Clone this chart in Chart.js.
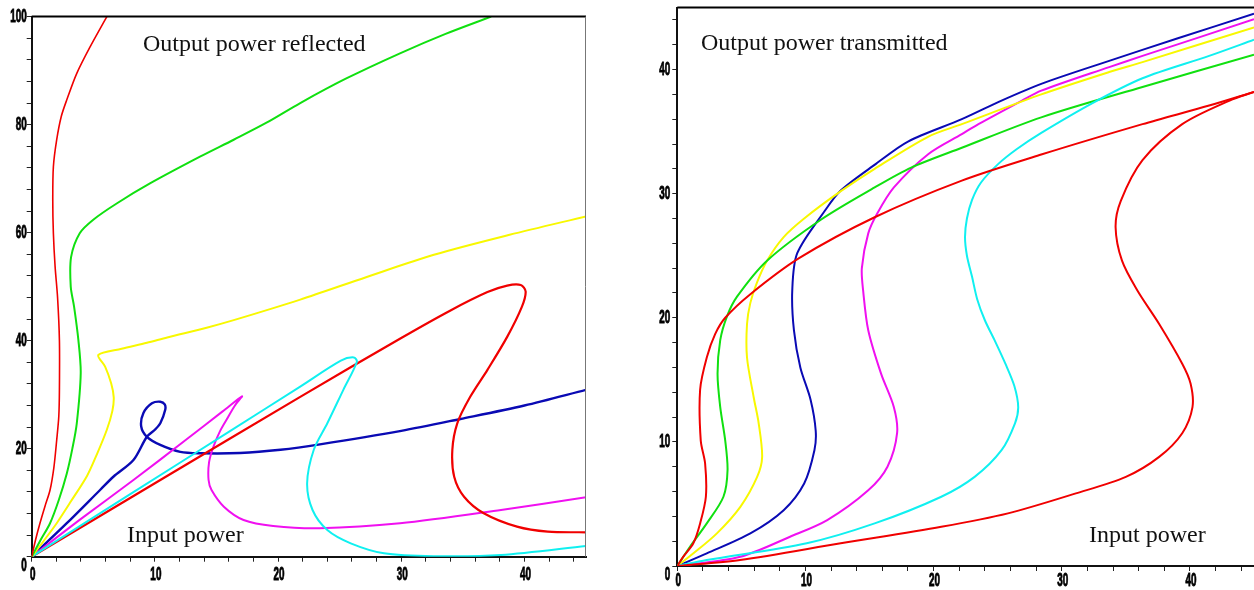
<!DOCTYPE html>
<html lang="en">
<head>
    <meta charset="UTF-8">
    <title>Output power reflected / transmitted</title>
    <style>
        body { margin: 0; background: #fff; width: 1254px; height: 590px; overflow: hidden; position: relative; }
        canvas { position: absolute; top: 0; }
        #left { left: 0; }
        #right { left: 640px; }
        .note {
            position: absolute;
            font-family: "Liberation Serif", "Times New Roman", serif;
            font-size: 24px;
            line-height: 24px;
            color: #111;
            white-space: nowrap;
        }
    </style>
</head>
<body>
    <canvas id="left" width="600" height="590"></canvas>
    <canvas id="right" width="614" height="590"></canvas>
    <div class="note" style="left:143px; top:31px;">Output power reflected</div>
    <div class="note" style="left:127px; top:522px;">Input power</div>
    <div class="note" style="left:701px; top:30px;">Output power transmitted</div>
    <div class="note" style="left:1089px; top:522px;">Input power</div>

    <script src="https://cdn.jsdelivr.net/npm/chart.js"></script>
    <script>
        // tick labels
        var reflXLabels = [0, 10, 20, 30, 40];
        var reflYLabels = [0, 20, 40, 60, 80, 100];
        var transXLabels = [0, 10, 20, 30, 40];
        var transYLabels = [0, 10, 20, 30, 40];

        // left panel: output power reflected vs input power
        var reflRed1X = [0, 0.3, 0.67, 1.1, 1.49, 1.8, 2.03, 2.2, 2.25, 2.25, 2.1, 1.9, 1.76, 1.71, 1.76, 2.03, 2.4, 2.85, 3.66, 4.74, 6.1];
        var reflRed1Y = [0, 3, 6.2, 9.5, 12.35, 16.5, 21.6, 26, 30.9, 40.1, 48, 53.7, 59.9, 66, 72.2, 77.2, 81.5, 84.6, 89.5, 94.4, 100];

        var reflGreenX = [0, 0.7, 1.49, 2.2, 2.85, 3.3, 3.66, 3.98, 3.79, 3.44, 3.17, 3.2, 3.9, 5.0, 6.9, 9.6, 13.7, 16.4, 19.1, 21.8, 25.5, 29.9, 33.6, 37.3];
        var reflGreenY = [0, 3, 6.2, 10.5, 15.4, 20, 24.7, 34.0, 40.1, 46.3, 50, 55.5, 59.9, 62.4, 65.4, 69.1, 74.1, 77.2, 80.4, 84.0, 88.5, 93.2, 96.8, 100];

        var reflYellowX = [0, 1.0, 2.03, 3.2, 4.5, 5.3, 6.1, 6.55, 6.66, 6.45, 5.96, 5.41, 7.3, 9.35, 11, 14.2, 16.4, 21.8, 27.2, 32.65, 38.8, 45];
        var reflYellowY = [0, 3, 6.2, 10.3, 15, 19, 23.5, 27, 29.5, 32.1, 35.2, 37.35, 38.5, 39.6, 40.6, 42.4, 43.8, 47.6, 51.8, 55.9, 59.6, 63.0];

        var reflBlueX = [0, 2.85, 5.55, 6.63, 8.26, 9.35, 10.0, 10.44, 10.84, 10.8, 10.44, 9.76, 9.07, 8.89, 9.35, 10.44, 12.06, 13.7, 16.9, 20.2, 23.4, 30, 34.8, 40, 45];
        var reflBlueY = [0, 6.2, 12.35, 14.8, 17.9, 22.2, 23.5, 24.7, 27.2, 28.2, 28.7, 28.4, 26.6, 24.1, 22.2, 20.7, 19.4, 19.15, 19.2, 19.8, 20.8, 23.3, 25.5, 28.0, 30.9];

        var reflMagentaX = [0, 4, 8.26, 12.5, 15.5, 17.07, 16.5, 15.85, 15.3, 14.76, 14.4, 14.36, 14.6, 15.6, 17.2, 19.6, 23.4, 29.9, 38.1, 45];
        var reflMagentaY = [0, 7, 14.2, 21.6, 26.9, 29.7, 28.0, 25.5, 23.3, 20.4, 17.5, 14.2, 12.35, 9.26, 6.8, 5.69, 5.26, 6.18, 8.65, 11.0];

        var reflCyanX = [0, 8, 16, 21.8, 25.1, 26.15, 26.4, 25.3, 24.0, 22.9, 22.36, 22.8, 24.0, 25.9, 28.6, 32.65, 38.1, 45];
        var reflCyanY = [0, 11.6, 23.1, 31.5, 36.3, 36.9, 36.1, 30.9, 24.7, 19.8, 13.6, 8.65, 4.94, 2.48, 0.63, 0.1, 0.31, 1.98];

        var reflRed2X = [0, 10, 21.8, 30, 34, 37, 38.6, 39.7, 40.1, 39.8, 38.6, 37.0, 35.6, 34.55, 34.15, 34.3, 35.1, 36.7, 39.4, 41.9, 45];
        var reflRed2Y = [0, 13.6, 29.6, 40.5, 45.6, 49.0, 50.2, 50.3, 49.1, 46.3, 40.7, 34.6, 29.6, 24.7, 19.8, 14.8, 11.1, 8.04, 5.56, 4.63, 4.52];

        // right panel: output power transmitted vs input power
        var transRed1X = [0, 0.47, 1.25, 1.78, 2.23, 2.17, 1.83, 1.78, 2.3, 2.96, 3.74, 5.7, 9.5, 15.4, 22.2, 28.4, 36.3, 41.5, 45];
        var transRed1Y = [0, 0.75, 1.83, 3.43, 5.58, 8.26, 10.1, 14.2, 16.8, 18.7, 20, 21.9, 24.8, 28.1, 31.05, 33.15, 35.6, 37.1, 38.2];

        var transGreenX = [0, 0.99, 2.3, 3.6, 3.92, 3.74, 3.35, 3.14, 3.35, 3.87, 4.66, 7.0, 11.2, 15.4, 18.25, 22.2, 28.4, 36.3, 45];
        var transGreenY = [0, 1.55, 3.43, 5.58, 7.72, 10.1, 12.8, 15.5, 18.2, 20.1, 21.7, 24.6, 27.9, 30.5, 32.1, 33.7, 36.15, 38.6, 41.2];

        var transYellowX = [0, 1.26, 3.09, 4.92, 6.23, 6.62, 6.35, 5.96, 5.44, 5.44, 5.7, 6.2, 7.0, 8.3, 9.9, 12.76, 15.4, 19.6, 22.2, 28.4, 33.7, 36.3, 45];
        var transYellowY = [0, 1.02, 2.63, 4.77, 7.18, 8.79, 11.5, 13.6, 16.8, 19.5, 21.2, 22.8, 24.6, 26.5, 28.0, 30.2, 32.0, 34.6, 35.6, 38.0, 39.8, 40.6, 43.4];

        var transBlueX = [0, 2.3, 5.7, 8.3, 9.9, 10.7, 10.8, 10.4, 9.6, 9.1, 8.97, 9.36, 11.5, 12.75, 15.5, 18.0, 22.2, 25.3, 28.4, 33.7, 39, 45];
        var transBlueY = [0, 1.02, 2.63, 4.5, 6.65, 9.33, 10.9, 13.4, 16.0, 19.0, 22.2, 25.2, 28.6, 30.25, 32.4, 34.2, 36.0, 37.5, 38.85, 40.7, 42.5, 44.5];

        var transMagentaX = [0, 4.92, 8.8, 11.7, 14.9, 16.4, 17.15, 16.9, 15.9, 14.9, 14.5, 14.4, 14.9, 15.6, 16.9, 19.6, 22.2, 23.5, 26.9, 28.4, 33.7, 36.3, 45];
        var transMagentaY = [0, 0.75, 2.36, 3.7, 6.1, 8.0, 10.7, 12.8, 15.5, 19.0, 22.2, 24.0, 26.8, 28.4, 30.5, 33.2, 34.8, 35.6, 37.5, 38.3, 40.2, 41.1, 44.05];

        var transCyanX = [0, 2.3, 10.1, 15.4, 20.6, 23.2, 25.3, 26.35, 26.6, 26.3, 25.6, 24.8, 24.0, 23.4, 23.0, 22.6, 22.45, 22.6, 23.0, 23.7, 25.05, 26.5, 28.4, 32.4, 36.3, 41.5, 45];
        var transCyanY = [0, 0.48, 1.83, 3.43, 5.58, 7.18, 9.33, 11.5, 12.8, 14.5, 16.3, 18.1, 19.8, 21.5, 23.3, 25.0, 26.5, 28.0, 29.5, 30.9, 32.4, 33.6, 34.9, 37.3, 39.3, 41.1, 42.4];

        var transRed2X = [0, 4.9, 12.75, 20.6, 25.8, 31.1, 35.0, 37.6, 39.4, 40.2, 40.05, 39.4, 37.6, 35.9, 34.7, 34.2, 34.6, 36.3, 39.4, 43.1, 45];
        var transRed2Y = [0, 0.48, 1.83, 3.16, 4.24, 5.85, 7.18, 8.79, 10.7, 12.8, 14.7, 16.3, 19.5, 22.2, 24.6, 27.3, 29.4, 32.7, 35.6, 37.5, 38.2];

        var RED = '#f00000', GREEN = '#10e010', YELLOW = '#f8f800', BLUE = '#0a0ab4', MAGENTA = '#f010f0', CYAN = '#10f0f0';

        function pts(xs, ys) {
            return xs.map(function(x, i) { return { x: x, y: ys[i] }; });
        }

        function curve(xs, ys, color, width) {
            return {
                data: pts(xs, ys),
                showLine: true,
                borderColor: color,
                borderWidth: width,
                pointRadius: 0,
                tension: 0.3,
                fill: false
            };
        }

        // frame lines and condensed bold tick labels
        var framePlugin = {
            id: 'frame',
            afterDraw: function(chart) {
                var o = chart.options.plugins.frame;
                var a = chart.chartArea;
                var ctx = chart.ctx;
                ctx.save();
                ctx.strokeStyle = '#000';
                ctx.lineWidth = 2;
                ctx.beginPath();
                ctx.moveTo(a.left, a.top);
                ctx.lineTo(a.right, a.top);
                ctx.stroke();
                if (o.rightBorder) {
                    ctx.strokeStyle = '#777';
                    ctx.lineWidth = 1;
                    ctx.beginPath();
                    ctx.moveTo(a.right - 0.5, a.top);
                    ctx.lineTo(a.right - 0.5, a.bottom);
                    ctx.stroke();
                }

                ctx.fillStyle = '#000';
                ctx.strokeStyle = '#000';
                ctx.lineWidth = 0.9;
                ctx.font = 'bold 18px "Liberation Sans", Arial, sans-serif';
                ctx.textBaseline = 'middle';
                var xs = chart.scales.x, ys = chart.scales.y;
                function label(text, x, y) {
                    ctx.save();
                    ctx.translate(x, y);
                    ctx.scale(0.55, 1);
                    ctx.fillText(text, 0, 0);
                    ctx.strokeText(text, 0, 0);
                    ctx.restore();
                }
                ctx.textAlign = 'center';
                o.xLabels.forEach(function(v) {
                    label(String(v), xs.getPixelForValue(v) + 1, o.xLabelY);
                });
                ctx.textAlign = 'right';
                o.yLabels.forEach(function(v) {
                    var py = ys.getPixelForValue(v);
                    if (v === 0) py += o.zeroShift;
                    label(String(v), a.left - o.yLabelGap, py);
                });
                ctx.restore();
            }
        };

        function axes(yMax, yStep, yWidth, xHeight) {
            return {
                x: {
                    type: 'linear', min: 0, max: 45,
                    ticks: { stepSize: 2, display: false, includeBounds: false },
                    grid: { drawOnChartArea: false, drawTicks: true, tickLength: 5, color: '#222' },
                    border: { display: true, color: '#111', width: 2 },
                    afterFit: function(s) { s.height = xHeight; }
                },
                y: {
                    type: 'linear', min: 0, max: yMax,
                    ticks: { stepSize: yStep, display: false, includeBounds: false },
                    grid: { drawOnChartArea: false, drawTicks: true, tickLength: 5, color: '#222' },
                    border: { display: true, color: '#111', width: 2 },
                    afterFit: function(s) { s.width = yWidth; }
                }
            };
        }

        new Chart(document.getElementById('left'), {
            type: 'scatter',
            data: {
                datasets: [
                    curve(reflRed1X, reflRed1Y, RED, 1.6),
                    curve(reflGreenX, reflGreenY, GREEN, 2),
                    curve(reflYellowX, reflYellowY, YELLOW, 2),
                    curve(reflCyanX, reflCyanY, CYAN, 2),
                    curve(reflRed2X, reflRed2Y, RED, 2.2),
                    curve(reflMagentaX, reflMagentaY, MAGENTA, 2),
                    curve(reflBlueX, reflBlueY, BLUE, 2.4)
                ]
            },
            options: {
                responsive: false,
                animation: false,
                layout: { padding: { top: 16.6, right: 14, left: 0, bottom: 0 } },
                plugins: {
                    legend: { display: false },
                    tooltip: { enabled: false },
                    frame: { rightBorder: true, xLabels: reflXLabels, yLabels: reflYLabels, xLabelY: 575, yLabelGap: 5, zeroShift: 9 }
                },
                scales: axes(100, 4, 31.7, 33.3)
            },
            plugins: [framePlugin]
        });

        new Chart(document.getElementById('right'), {
            type: 'scatter',
            data: {
                datasets: [
                    curve(transRed2X, transRed2Y, RED, 2),
                    curve(transRed1X, transRed1Y, RED, 2),
                    curve(transCyanX, transCyanY, CYAN, 2),
                    curve(transGreenX, transGreenY, GREEN, 2),
                    curve(transYellowX, transYellowY, YELLOW, 2),
                    curve(transMagentaX, transMagentaY, MAGENTA, 2),
                    curve(transBlueX, transBlueY, BLUE, 2)
                ]
            },
            options: {
                responsive: false,
                animation: false,
                layout: { padding: { top: 7.5, right: 0, left: 0, bottom: 0 } },
                plugins: {
                    legend: { display: false },
                    tooltip: { enabled: false },
                    frame: { rightBorder: false, xLabels: transXLabels, yLabels: transYLabels, xLabelY: 581, yLabelGap: 7, zeroShift: 9 }
                },
                scales: axes(45, 2, 37.3, 24)
            },
            plugins: [framePlugin]
        });
    </script>
</body>
</html>
